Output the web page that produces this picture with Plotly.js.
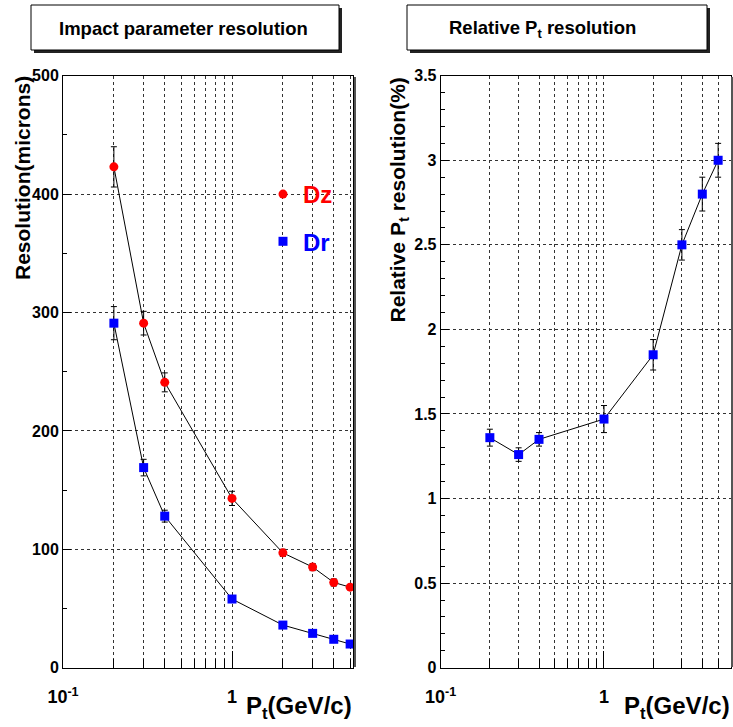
<!DOCTYPE html>
<html>
<head>
<meta charset="utf-8">
<script src="https://cdn.plot.ly/plotly-3.0.1.min.js"></script>
<style>html,body{margin:0;padding:0;background:#fff;}#chart{width:733px;height:727px;}</style>
</head>
<body>
<div id="chart"></div>
<script>
// ---- data ----
const ptValues = [0.2, 0.3, 0.4, 1, 2, 3, 4, 5];
const dzRes = [423, 291, 241, 143, 97, 85, 72, 68];
const dzErr = [17, 10, 8, 6, 3, 3, 3, 2];
const drRes = [291, 169, 128, 58, 36, 29, 24, 20];
const drErr = [14, 7, 5, 2, 2, 2, 2, 2];
const ptRelRes = [1.36, 1.26, 1.35, 1.47, 1.85, 2.50, 2.80, 3.00];
const ptRelErr = [0.05, 0.04, 0.04, 0.08, 0.09, 0.09, 0.10, 0.10];
const xMajorTicks = [0.1, 1];
const xMajorLabels = ['<b>10<sup>-1</sup></b>', '<b>1</b>'];
const xMinorTicks = [0.2, 0.3, 0.4, 0.5, 0.6, 0.7, 0.8, 0.9, 2, 3, 4, 5];
const leftYTicks = [0, 100, 200, 300, 400, 500];
const leftYLabels = ['<b>0</b>', '<b>100</b>', '<b>200</b>', '<b>300</b>', '<b>400</b>', '<b>500</b>'];
const rightYTicks = [0, 0.5, 1, 1.5, 2, 2.5, 3, 3.5];
const rightYLabels = ['<b>0</b>', '<b>0.5</b>', '<b>1</b>', '<b>1.5</b>', '<b>2</b>', '<b>2.5</b>', '<b>3</b>', '<b>3.5</b>'];
const leftTitle = 'Impact parameter resolution';
const rightTitle = 'Relative P<sub>t</sub> resolution';
const leftYTitle = 'Resolution(microns)';
const rightYTitle = 'Relative P<sub>t</sub> resolution(%)';
const xTitle = 'P<sub>t</sub>(GeV/c)';
const seriesNames = ['Dz', 'Dr'];

// ---- layout helpers ----
const W = 733, H = 727;
const px = v => v / W;
const py = v => 1 - v / H;
const FONT = 'Liberation Sans, Arial, Helvetica, sans-serif';

function xAxisCfg(domain, rangeMax, anchor) {
  return {
    type: 'log', domain: domain, range: [-1, Math.log10(rangeMax)], anchor: anchor,
    tickmode: 'array', tickvals: xMajorTicks, ticktext: xMajorLabels,
    ticks: 'inside', ticklen: 17, tickwidth: 1, tickcolor: '#000',
    showline: true, linecolor: '#000', linewidth: 1, mirror: true,
    showgrid: true, gridcolor: '#333', gridwidth: 1, griddash: 'dot',
    zeroline: false, ticklabelstandoff: 13,
    tickfont: {family: FONT, size: 18, color: '#000'},
    minor: {tickmode: 'array', tickvals: xMinorTicks, ticks: 'inside', ticklen: 9,
            tickcolor: '#000', tickwidth: 1, showgrid: true, gridcolor: '#333',
            gridwidth: 1, griddash: 'dot'}
  };
}
function yAxisCfg(range, vals, labels, minorDtick, anchor) {
  return {
    domain: [py(667.7), py(75.7)], range: range, anchor: anchor,
    tickmode: 'array', tickvals: vals, ticktext: labels,
    ticks: 'inside', ticklen: 8, tickwidth: 1, tickcolor: '#000',
    showline: true, linecolor: '#000', linewidth: 1, mirror: true,
    showgrid: true, gridcolor: '#333', gridwidth: 1, griddash: 'dot',
    zeroline: false,
    tickfont: {family: FONT, size: 16, color: '#000'},
    minor: {tick0: 0, dtick: minorDtick, ticks: 'inside', ticklen: 4, tickcolor: '#000', showgrid: false}
  };
}

const errStyle = v => ({type: 'data', array: v, visible: true, color: '#000', thickness: 1, width: 3});

const traces = [
  {x: ptValues, y: dzRes, mode: 'lines', line: {color: '#000', width: 1}, showlegend: false, xaxis: 'x', yaxis: 'y', hoverinfo: 'skip'},
  {x: ptValues, y: drRes, mode: 'lines', line: {color: '#000', width: 1}, showlegend: false, xaxis: 'x', yaxis: 'y', hoverinfo: 'skip'},
  {x: ptValues, y: dzRes, error_y: errStyle(dzErr), mode: 'markers', name: '<span style="color:#ff0000">' + seriesNames[0] + '</span>',
   marker: {color: '#ff0000', symbol: 'circle', size: 9}, cliponaxis: false, xaxis: 'x', yaxis: 'y', legendgroup: 'a'},
  {x: ptValues, y: drRes, error_y: errStyle(drErr), mode: 'markers', name: '<span style="color:#0000ff">' + seriesNames[1] + '</span>',
   marker: {color: '#0000ff', symbol: 'square', size: 9}, cliponaxis: false, xaxis: 'x', yaxis: 'y', legendgroup: 'b'},
  {x: ptValues, y: ptRelRes, mode: 'lines', line: {color: '#000', width: 1}, showlegend: false, xaxis: 'x2', yaxis: 'y2', hoverinfo: 'skip'},
  {x: ptValues, y: ptRelRes, error_y: errStyle(ptRelErr), mode: 'markers', showlegend: false,
   marker: {color: '#0000ff', symbol: 'square', size: 9}, cliponaxis: false, xaxis: 'x2', yaxis: 'y2'}
];

function titleBox(x0, x1, y0, y1) {
  return [
    {type: 'rect', xref: 'paper', yref: 'paper', x0: px(x0 + 3), x1: px(x1 + 3), y0: py(y1 + 3), y1: py(y0 + 3),
     fillcolor: '#222', line: {width: 0}, layer: 'above'},
    {type: 'rect', xref: 'paper', yref: 'paper', x0: px(x0), x1: px(x1), y0: py(y1), y1: py(y0),
     fillcolor: '#fff', line: {color: '#000', width: 1}, layer: 'above'}
  ];
}
function rightShadow(x, y0, y1) {
  return {type: 'line', xref: 'paper', yref: 'paper', x0: px(x), x1: px(x), y0: py(y1), y1: py(y0),
          line: {color: '#555', width: 2}, layer: 'above'};
}

const layout = {
  width: W, height: H,
  margin: {l: 0, r: 0, t: 0, b: 0},
  paper_bgcolor: '#fff', plot_bgcolor: '#fff',
  font: {family: FONT, color: '#000'},
  xaxis: xAxisCfg([px(63), px(353.3)], 5.22, 'y'),
  yaxis: yAxisCfg([0, 500], leftYTicks, leftYLabels, 50, 'x'),
  xaxis2: xAxisCfg([px(440.7), px(730.7)], 5.97, 'y2'),
  yaxis2: yAxisCfg([0, 3.5], rightYTicks, rightYLabels, 0.1, 'x2'),
  showlegend: true,
  legend: {x: px(263), y: py(172), xanchor: 'left', yanchor: 'top', bgcolor: 'rgba(0,0,0,0)',
           borderwidth: 0, traceorder: 'grouped', tracegroupgap: 13,
           font: {family: FONT, size: 24, weight: 'bold', color: '#000'}},
  shapes: [].concat(
    titleBox(31, 339, 5, 50),
    titleBox(407, 707, 5, 50),
    [rightShadow(355, 77, 667), rightShadow(732, 77, 667)]
  ),
  annotations: [
    {text: '<b>' + leftTitle + '</b>', xref: 'paper', yref: 'paper', x: px(183), y: py(29), xanchor: 'center', yanchor: 'middle',
     showarrow: false, font: {family: FONT, size: 18.5, color: '#000'}},
    {text: '<b>' + rightTitle + '</b>', xref: 'paper', yref: 'paper', x: px(542), y: py(29), xanchor: 'center', yanchor: 'middle',
     showarrow: false, font: {family: FONT, size: 18.5, color: '#000'}},
    {text: '<b>' + leftYTitle + '</b>', xref: 'paper', yref: 'paper', x: px(22), y: py(74), xanchor: 'center', yanchor: 'top',
     textangle: -90, showarrow: false, font: {family: FONT, size: 21, color: '#000'}},
    {text: '<b>' + rightYTitle + '</b>', xref: 'paper', yref: 'paper', x: px(398), y: py(76), xanchor: 'center', yanchor: 'top',
     textangle: -90, showarrow: false, font: {family: FONT, size: 21, color: '#000'}},
    {text: '<b>' + xTitle + '</b>', xref: 'paper', yref: 'paper', x: px(354), y: py(725), xanchor: 'right', yanchor: 'bottom',
     showarrow: false, font: {family: FONT, size: 24, color: '#000'}},
    {text: '<b>' + xTitle + '</b>', xref: 'paper', yref: 'paper', x: px(732), y: py(725), xanchor: 'right', yanchor: 'bottom',
     showarrow: false, font: {family: FONT, size: 24, color: '#000'}}
  ]
};

Plotly.newPlot('chart', traces, layout, {staticPlot: true, displayModeBar: false});
</script>
</body>
</html>
